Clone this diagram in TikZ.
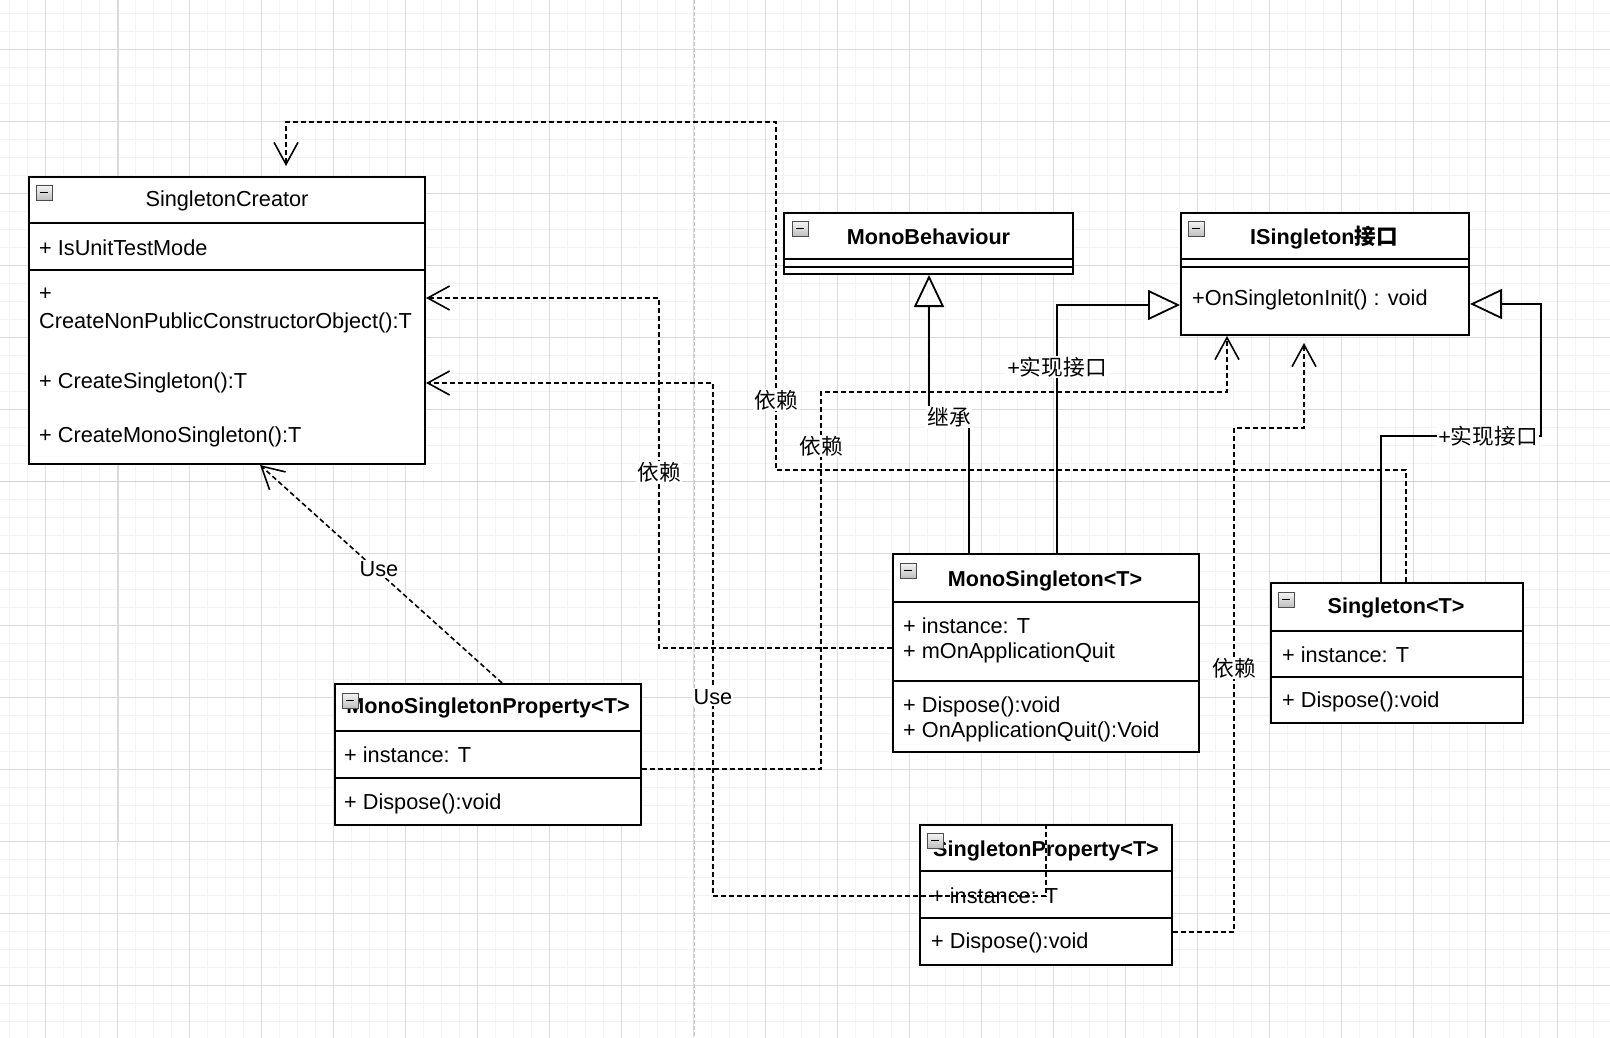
\documentclass[tikz,border=0pt]{standalone}
\usepackage{fontspec}
\setmainfont{Liberation Sans}
\newfontfamily\cjk{Noto Sans CJK SC}
\usetikzlibrary{arrows.meta}
\definecolor{gminor}{HTML}{F3F3F3}
\definecolor{gmajor}{HTML}{DCDCDC}
\newcommand\colicon[2]{%
  \draw[draw=gray!60!black, line width=0.9pt, top color=gray!8, bottom color=gray!50] (#1,#2) rectangle ++(16,15);
  \draw[line width=1.8pt] (#1+4,#2+7.5) -- (#1+12,#2+7.5);}
\begin{document}
\begin{tikzpicture}[x=1pt,y=-1pt,
  txt/.style={font=\fontsize{21.7}{26}\selectfont, inner sep=0pt},
  ttl/.style={txt, font=\fontsize{21.6}{26}\selectfont\bfseries, anchor=base},
  mem/.style={txt, anchor=base west},
  box/.style={draw=black, line width=2pt, fill=white, inner sep=0pt},
  sepline/.style={line width=2pt},
  dashline/.style={line width=1.6pt, dash pattern=on 5pt off 3pt},
  dep/.style={dashline, -{Straight Barb[length=22pt,width=24pt,line width=1.6pt]}},
  real/.style={line width=1.8pt, -{Triangle[open,length=32pt,width=30pt,line width=1.8pt]}},
  lbl/.style={txt, fill=white, inner sep=1pt},
]
\useasboundingbox (0,0) rectangle (1610,1038);
\fill[white] (0,0) rectangle (1610,1038);
% grid
\foreach \x in {9,27,...,1610} \draw[gminor, line width=0.8pt] (\x,0) -- (\x,1038);
\foreach \y in {13,31,...,1038} \draw[gminor, line width=0.8pt] (0,\y) -- (1610,\y);
\foreach \x in {45,117,...,1610} \draw[gmajor, line width=0.9pt] (\x,0) -- (\x,1038);
\foreach \y in {49,121,...,1038} \draw[gmajor, line width=0.9pt] (0,\y) -- (1610,\y);
\draw[gray!45, line width=1pt, dash pattern=on 4pt off 2pt] (694,0) -- (694,1038);
\draw[gray!35, line width=1pt] (0,481) -- (1610,481);
\draw[gray!30, line width=1pt] (118,0) -- (118,842);

% ---------- boxes ----------
\node[box, minimum width=396pt, minimum height=287pt] (sc) at (227,320.5) {};
\draw[sepline] (sc.west |- 0,223) -- (sc.east |- 0,223);
\draw[sepline] (sc.west |- 0,270) -- (sc.east |- 0,270);
\node[txt, anchor=base] (sct) at (227,207) {SingletonCreator};
\node[mem] (sc1) at (39,255) {+ IsUnitTestMode};
\node[mem] (sc2) at (39,300) {+};
\node[mem] (sc3) at (39,328) {CreateNonPublicConstructorObject():T};
\node[mem] (sc4) at (39,388) {+ CreateSingleton():T};
\node[mem] (sc5) at (39,442) {+ CreateMonoSingleton():T};

\node[box, minimum width=289pt, minimum height=61pt] (mb) at (928.5,243.5) {};
\draw[sepline] (mb.west |- 0,259) -- (mb.east |- 0,259);
\draw[sepline] (mb.west |- 0,267) -- (mb.east |- 0,267);
\node[ttl] (mbt) at (928.5,244) {MonoBehaviour};

\node[box, minimum width=288pt, minimum height=122pt] (is) at (1325,274) {};
\draw[sepline] (is.west |- 0,259) -- (is.east |- 0,259);
\draw[sepline] (is.west |- 0,267) -- (is.east |- 0,267);
\node[ttl] (ist) at (1324,244) {ISingleton{\cjk\bfseries 接口}};
\node[mem] (is1) at (1192,305) {+OnSingletonInit() : void};

\node[box, minimum width=306pt, minimum height=198pt] (ms) at (1046,653) {};
\draw[sepline] (ms.west |- 0,602) -- (ms.east |- 0,602);
\draw[sepline] (ms.west |- 0,681) -- (ms.east |- 0,681);
\node[ttl] (mst) at (1045,586) {MonoSingleton<T>};
\node[mem] (ms1) at (903,633) {+ instance: T};
\node[mem] (ms2) at (903,658) {+ mOnApplicationQuit};
\node[mem] (ms3) at (903,712) {+ Dispose():void};
\node[mem] (ms4) at (903,737) {+ OnApplicationQuit():Void};

\node[box, minimum width=252pt, minimum height=140pt] (sg) at (1397,653) {};
\draw[sepline] (sg.west |- 0,631) -- (sg.east |- 0,631);
\draw[sepline] (sg.west |- 0,677) -- (sg.east |- 0,677);
\node[ttl] (sgt) at (1396,613) {Singleton<T>};
\node[mem] (sg1) at (1282,662) {+ instance: T};
\node[mem] (sg2) at (1282,707) {+ Dispose():void};

\node[box, minimum width=306pt, minimum height=141pt] (msp) at (488,754.5) {};
\draw[sepline] (msp.west |- 0,731) -- (msp.east |- 0,731);
\draw[sepline] (msp.west |- 0,778) -- (msp.east |- 0,778);
\node[ttl] (mspt) at (488,713) {MonoSingletonProperty<T>};
\node[mem] (msp1) at (344,762) {+ instance: T};
\node[mem] (msp2) at (344,809) {+ Dispose():void};

\node[box, minimum width=252pt, minimum height=140pt] (sp) at (1046,895) {};
\draw[sepline] (sp.west |- 0,871) -- (sp.east |- 0,871);
\draw[sepline] (sp.west |- 0,918) -- (sp.east |- 0,918);
\node[ttl] (spt) at (1046,856) {SingletonProperty<T>};
\node[mem] (sp1) at (931,903) {+ instance: T};
\node[mem] (sp2) at (931,948) {+ Dispose():void};

% collapse icons
\colicon{36}{185}
\colicon{792}{221}
\colicon{1188}{221}
\colicon{900}{563}
\colicon{1278}{592}
\colicon{342}{693}
\colicon{927}{833}

% ---------- connectors ----------
% inheritance
\draw[real] (ms.north -| 969,0) -- (969,417) -- (929,417) -- (mb.south -| 929,0);
% realization
\draw[real] (ms.north -| 1057,0) |- (is.west |- 0,305);
\draw[real] (sg.north -| 1381,0) |- (1541,436) |- (is.east |- 0,304);
% dependencies
\draw[dep, shorten >=10pt] (sg.north -| 1406,0) |- (776,470) |- (286,122) -- (sc.north -| 286,0);
\draw[dep] (msp.east |- 0,769) -| (821,392) -| (is.south -| 1227,0);
\draw[dep, shorten >=7pt] (sp.east |- 0,932) -| (1234,428) -| (is.south -| 1304,0);
\draw[dep] (ms.west |- 0,648) -| (659,298) -- (sc.east |- 0,298);
\draw[dep] (sp.north -| 1046,0) -- (1046,896) -| (713,383) -- (sc.east |- 0,383);
\draw[dep] (msp.north -| 502,0) -- (sc.south -| 260,0);

% labels
\node[lbl] (l1) at (949,417) {{\cjk 继承}};
\node[lbl] (l2) at (1057,367) {+{\cjk 实现接口}};
\node[lbl] (l3) at (1488,436) {+{\cjk 实现接口}};
\node[lbl] (l4) at (776,400) {{\cjk 依赖}};
\node[lbl] (l5) at (821,446) {{\cjk 依赖}};
\node[lbl] (l6) at (659,472) {{\cjk 依赖}};
\node[lbl] (l7) at (1234,668) {{\cjk 依赖}};
\node[lbl] (l8) at (713,697) {Use};
\node[lbl] (l9) at (379,569) {Use};
\end{tikzpicture}
\end{document}
